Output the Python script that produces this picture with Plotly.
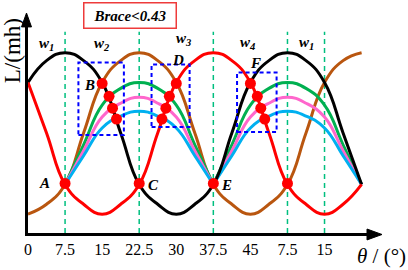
import plotly.graph_objects as go

# ---------------- data ----------------
theta = [0, 3.75, 7.5, 11.25, 15, 18.75, 22.5, 26.25, 30, 33.75, 37.5,
         41.25, 45, 48.75, 52.5, 56.25, 60, 63.75, 67.5]
L_black = [154, 176, 184, 176, 154, 103, 51, 31, 21, 31, 51, 103, 154, 176, 184, 176, 154, 103, 51]
L_red = [154, 103, 51, 31, 21, 31, 51, 103, 154, 176, 184, 176, 154, 103, 51, 31, 21, 31, 51]
L_brown = [21, 31, 51, 103, 154, 176, 184, 176, 154, 103, 51, 31, 21, 31, 51, 103, 154, 176, 184]

theta_arc = [7.5, 11.25, 15, 18.75, 22.5, 26.25, 30, 33.75, 37.5,
             41.25, 45, 48.75, 52.5, 56.25, 60, 63.75, 67.5]
L_green = [51, 91, 131, 148, 154, 148, 131, 91, 51, 91, 131, 148, 154, 148, 131, 91, 51]
L_pink = [51, 85, 119, 133, 139, 133, 119, 85, 51, 85, 119, 133, 139, 133, 119, 85, 51]
L_cyan = [51, 80, 108, 120, 125, 120, 108, 80, 51, 80, 108, 120, 125, 120, 108, 80, 51]

pt_theta = [7.5, 22.5, 37.5, 52.5,
            15, 16.4, 17.1, 17.9,
            30, 28.6, 27.9, 27.1,
            45, 46.4, 47.1, 47.9]
pt_L = [52, 52, 52, 52,
        153, 140, 128, 117,
        153, 140, 128, 117,
        153, 140, 128, 117]

tick_vals = [0, 7.5, 15, 22.5, 30, 37.5, 45, 52.5, 60]
tick_text = ["0", "7.5", "15", "22.5", "30", "37.5", "45", "7.5", "15"]
divider_theta = [7.5, 22.5, 37.5, 52.5, 60]

point_labels = ["A", "B", "C", "D", "E", "F"]
point_label_theta = [3.4, 12.5, 25.3, 30.4, 40.2, 46.0]
point_label_L = [52, 151, 50, 177, 50, 174]

region_labels = ["1", "2", "3", "4", "1"]
region_theta = [3.7, 15.0, 31.5, 44.5, 56.3]
region_L = [193, 193, 198, 194, 194]

box_x0 = [10.2, 25.0, 42.3]
box_x1 = [19.4, 32.7, 50.3]
box_L0 = [101, 109, 104]
box_L1 = [174, 172, 164]

# ---------------- figure ----------------
W, H = 408, 270
ML, MR, MT, MB = 28, 38, 18, 35
PW, PH = W - ML - MR, H - MT - MB


def px2paper_x(px):
    return (px - ML) / PW


def px2paper_y(py):
    return (H - MB - py) / PH


serif = "Liberation Serif, Times New Roman, serif"
fig = go.Figure()

# vertical dashed dividers
for t in divider_theta:
    fig.add_shape(type="line", xref="x", yref="y", x0=t, x1=t, y0=2, y1=205,
                  line=dict(color="#00bf7f", width=1.5, dash="5px,4px"), layer="below")


def curve(xs, ys, col):
    return go.Scatter(x=xs, y=ys, mode="lines", hoverinfo="skip", showlegend=False,
                      line=dict(color=col, width=3, shape="spline", smoothing=1.3))


fig.add_trace(curve(theta, L_brown, "#b9560f"))
for ys, col in [(L_green, "#00b050"), (L_pink, "#ff66cc"), (L_cyan, "#00b0f0")]:
    fig.add_trace(curve(theta_arc[:9], ys[:9], col))
    fig.add_trace(curve(theta_arc[8:], ys[8:], col))
fig.add_trace(curve(theta, L_black, "#000000"))
fig.add_trace(curve(theta, L_red, "#ff0000"))
fig.add_trace(go.Scatter(x=pt_theta, y=pt_L, mode="markers", hoverinfo="skip",
                         marker=dict(color="#ff0000", size=11), showlegend=False))

# blue dotted boxes
for x0, x1, y0, y1 in zip(box_x0, box_x1, box_L0, box_L1):
    fig.add_shape(type="rect", xref="x", yref="y", x0=x0, x1=x1, y0=y0, y1=y1,
                  line=dict(color="#0000ff", width=2, dash="4px,3px"), layer="above")

# point labels
for s, tx, ty in zip(point_labels, point_label_theta, point_label_L):
    fig.add_annotation(x=tx, y=ty, xref="x", yref="y", text=f"<b><i>{s}</i></b>", showarrow=False,
                       xanchor="center", yanchor="middle",
                       font=dict(family=serif, size=15, color="black"))
for s, tx, ty in zip(region_labels, region_theta, region_L):
    fig.add_annotation(x=tx, y=ty, xref="x", yref="y",
                       text=f"<b><i>w</i></b><sub><b><i>{s}</i></b></sub>",
                       showarrow=False, xanchor="center", yanchor="middle",
                       font=dict(family=serif, size=15, color="black"))

# axis arrowheads
fig.add_shape(type="path", xref="paper", yref="paper",
              path=f"M {px2paper_x(21.5)} {px2paper_y(27)} L {px2paper_x(26.5)} {px2paper_y(13)} L {px2paper_x(31.5)} {px2paper_y(27)} Z",
              fillcolor="black", line=dict(color="black", width=1))
fig.add_shape(type="path", xref="paper", yref="paper",
              path=f"M {px2paper_x(367)} {px2paper_y(231)} L {px2paper_x(382)} {px2paper_y(236.5)} L {px2paper_x(367)} {px2paper_y(242)} Z",
              fillcolor="black", line=dict(color="black", width=1))

# titles
fig.add_annotation(xref="paper", yref="paper", x=px2paper_x(12.5), y=px2paper_y(51), text="L/(mh)",
                   textangle=-90, showarrow=False, xanchor="center", yanchor="middle",
                   font=dict(family=serif, size=23, color="black"))
fig.add_annotation(xref="paper", yref="paper", x=px2paper_x(381), y=px2paper_y(258), text="<i>θ</i> / (°)",
                   showarrow=False, xanchor="center", yanchor="middle",
                   font=dict(family=serif, size=21, color="black"))
fig.add_annotation(xref="paper", yref="paper", x=px2paper_x(129.5), y=px2paper_y(15), text="<b><i>Brace&lt;0.43</i></b>",
                   showarrow=False, xanchor="center", yanchor="middle",
                   font=dict(family=serif, size=15, color="black"),
                   bordercolor="#ee3b3b", borderwidth=1.5, borderpad=3, width=85, height=18, bgcolor="white")

fig.update_layout(
    width=W, height=H, autosize=False,
    margin=dict(l=ML, r=MR, t=MT, b=MB, pad=0),
    paper_bgcolor="white", plot_bgcolor="white",
    hovermode=False,
    xaxis=dict(range=[0, 69.2], showline=True, linecolor="black", linewidth=3, showgrid=False, zeroline=False,
               tickvals=tick_vals, ticktext=tick_text, ticks="", tickfont=dict(family=serif, size=16, color="black")),
    yaxis=dict(range=[2, 219], showline=True, linecolor="black", linewidth=3, showgrid=False, zeroline=False,
               showticklabels=False, ticks=""),
)

fig.write_html("out.html", config={"displayModeBar": False, "staticPlot": True},
               post_script="document.body.style.margin='0px';")
